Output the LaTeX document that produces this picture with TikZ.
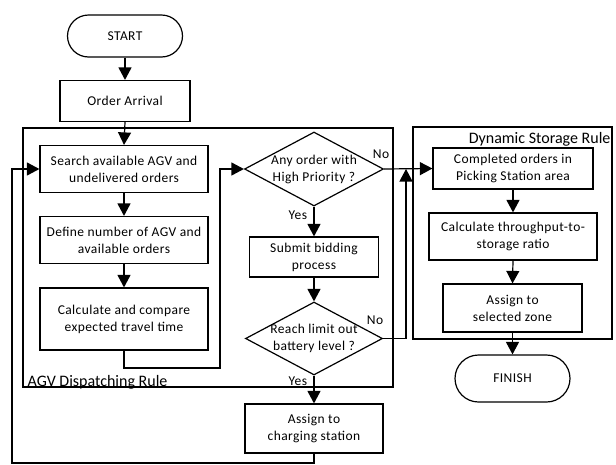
\documentclass[tikz,border=0pt]{standalone}
\usepackage{fontspec}
\setmainfont{Carlito}
\newfontfamily\boxfont{Carlito}[LetterSpace=3]
\usetikzlibrary{positioning,shapes.geometric,shapes.misc,arrows.meta}

\begin{document}
\begin{tikzpicture}[x=1pt,y=-1pt,line width=1.2pt,
  txt/.style={font=\boxfont\fontsize{13.5}{17}\selectfont},
  proc/.style={txt,draw,rectangle,inner sep=0pt,align=center},
  term/.style={txt,draw,rounded rectangle,inner sep=0pt,minimum width=115pt},
  decide/.style={txt,draw,diamond,aspect=1.9,inner sep=-4pt,align=center},
  grp/.style={draw,rectangle,inner sep=0pt},
  grplbl/.style={font=\fontsize{16}{19}\selectfont,inner sep=0pt},
  arr/.style={-{Triangle[width=13pt,length=12.5pt]}}]
\useasboundingbox (0,0) rectangle (616,464);

% rule groups
\node[grp,minimum width=370pt,minimum height=259pt] (agv) at (208,257.5) {};
\node[grp,minimum width=199pt,minimum height=212pt] (dsr) at (512.5,233) {};
\node[grplbl,anchor=base west] (agvlbl) at (27,386) {AGV Dispatching Rule};
\node[grplbl,anchor=base east] (dsrlbl) at (611,143) {Dynamic Storage Rule};

% left column
\node[term,minimum height=42pt] (start) at (125,36) {START};
\node[proc,minimum width=130pt,minimum height=41pt] (arrival) at (125,101) {Order Arrival};
\node[proc,minimum width=168pt,minimum height=47pt] (search) at (124,169) {Search available AGV and\\undelivered orders};
\node[proc,minimum width=168pt,minimum height=47pt] (define) at (124,240) {Define number of AGV and\\available orders};
\node[proc,minimum width=168pt,minimum height=62pt] (calc) at (124,319) {Calculate and compare\\expected travel time};

% middle column
\node[decide,minimum width=139pt,minimum height=74pt] (prio) at (314,169) {Any order with\\High Priority ?};
\node[proc,minimum width=129pt,minimum height=40pt] (submit) at (314,257) {Submit bidding\\process};
\node[decide,minimum width=137pt,minimum height=73pt] (batt) at (314,338.5) {Reach limit out\\battery level ?};
\node[proc,minimum width=138pt,minimum height=49pt] (charge) at (314,428.5) {Assign to\\charging station};

% right column
\node[proc,minimum width=160pt,minimum height=41pt] (done) at (513,168.5) {Completed orders in\\Picking Station area};
\node[proc,minimum width=168pt,minimum height=47pt] (ratio) at (513,236.5) {Calculate throughput-to-\\storage ratio};
\node[proc,minimum width=139pt,minimum height=48pt] (zone) at (512.5,308) {Assign to\\selected zone};
\node[term,minimum height=47pt] (finish) at (512.5,378.5) {FINISH};

\coordinate (c1) at (220,368);
\coordinate (c2) at (12,463);
\coordinate (j1) at (406,169);

\draw[arr] (start.south) -- (arrival.north);
\draw[arr] (arrival.south) -- (search.north);
\draw[arr] (search.south) -- (define.north);
\draw[arr] (define.south) -- (calc.north);
\draw[arr] (calc.south) |- (c1) |- (prio.west);
\draw[arr] (prio.east) -- node[txt,pos=0,above=6pt,xshift=-3pt] {No} (done.west);
\draw[arr] (prio.south) -- node[txt,pos=0.3,left=3pt] {Yes} (submit.north);
\draw[arr] (submit.south) -- (batt.north);
\draw[arr] (batt.east) -| node[txt,pos=0,above=10pt,xshift=-8pt] {No} (j1);
\draw[arr] (batt.south) -- node[txt,pos=0.2,left=3pt] {Yes} (charge.north);
\draw[arr] (charge.south) |- (c2) |- (search.west);
\draw[arr] (done.south) -- (ratio.north);
\draw[arr] (ratio.south) -- (zone.north);
\draw[arr] (zone.south) -- (finish.north);
\end{tikzpicture}
\end{document}
